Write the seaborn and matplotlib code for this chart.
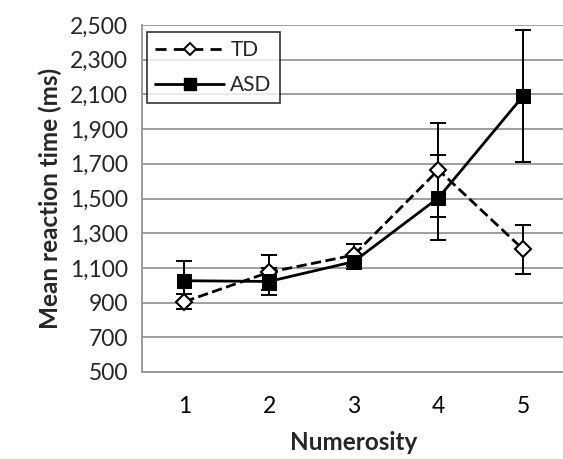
import matplotlib
matplotlib.use("Agg")
import matplotlib.pyplot as plt
import seaborn as sns
import pandas as pd
import numpy as np
from matplotlib.ticker import FuncFormatter, FixedLocator
from matplotlib.lines import Line2D

numerosity = [1, 2, 3, 4, 5]
td_mean = [905, 1075, 1174, 1665, 1207]
td_err = [43, 100, 63, 270, 141]
asd_mean = [1026, 1022, 1136, 1504, 2091]
asd_err = [115, 80, 40, 245, 381]
groups = ["TD", "ASD"]

sns.set_style("white")
plt.rcParams['font.family'] = ['Lato', 'DejaVu Sans']

df = pd.DataFrame({
    "Numerosity": numerosity * 2,
    "RT": td_mean + asd_mean,
    "err": td_err + asd_err,
    "Group": ["TD"] * 5 + ["ASD"] * 5,
})

fig = plt.figure(figsize=(5.63, 4.59), dpi=100)
ax = fig.add_axes([142 / 563, 1 - 372 / 459, 423.5 / 563, 347 / 459])

grid_c = "#969696"
for y in range(500, 2501, 200):
    ax.axhline(y, color=grid_c, lw=1.3, zorder=0)

# error bars
for g in groups:
    sub = df[df.Group == g]
    ax.errorbar(sub.Numerosity, sub.RT, yerr=sub.err, fmt="none", ecolor="black",
                elinewidth=1.4, capsize=5.5, capthick=1.4, zorder=2)

sns.lineplot(data=df[df.Group == "TD"], x="Numerosity", y="RT", ax=ax, color="black",
             lw=2.0, marker="D", markersize=8.5, markerfacecolor="white",
             markeredgecolor="black", markeredgewidth=1.5, dashes=(4, 2.6),
             linestyle="--", legend=False, zorder=3, errorbar=None)
sns.lineplot(data=df[df.Group == "ASD"], x="Numerosity", y="RT", ax=ax, color="black",
             lw=2.0, marker="s", markersize=9.5, markerfacecolor="black",
             markeredgecolor="black", legend=False, zorder=4, errorbar=None)

ax.set_xlim(0.5, 5.5)
ax.set_ylim(500, 2500)
ax.set_xticks(numerosity)
ax.set_xticklabels([str(n) for n in numerosity])
ax.xaxis.set_minor_locator(FixedLocator(np.arange(0.5, 5.6, 1.0)))
ax.tick_params(axis="x", which="major", length=0, pad=17, labelsize=16.5, colors="black")
ax.tick_params(axis="x", which="minor", length=6, width=1.3, color=grid_c, direction="out")
ax.set_yticks(range(500, 2501, 200))
ax.yaxis.set_major_formatter(FuncFormatter(lambda v, p: f"{int(v):,}"))
ax.tick_params(axis="y", length=6, width=1.3, color=grid_c, direction="out", labelsize=16.5, pad=4)

for s in ["top", "right"]:
    ax.spines[s].set_visible(False)
for s in ["left", "bottom"]:
    ax.spines[s].set_color(grid_c)
    ax.spines[s].set_linewidth(1.3)

ax.set_xlabel("Numerosity", fontsize=17.5, fontweight="bold", labelpad=10)
ax.set_ylabel("Mean reaction time (ms)", fontsize=17.5, fontweight="bold", labelpad=6)

handles = [
    Line2D([], [], color="black", lw=2.0, ls=(0, (4, 2.6)), marker="D", markersize=6,
           markerfacecolor="white", markeredgewidth=1.4),
    Line2D([], [], color="black", lw=2.0, marker="s", markersize=8),
]
leg = ax.legend(handles, groups, loc="upper left", bbox_to_anchor=(0.012, 0.98),
                borderaxespad=0, fontsize=15, handlelength=3.3, frameon=True, fancybox=False,
                edgecolor="black", borderpad=0.4, labelspacing=0.7, handletextpad=0.3)
leg.get_frame().set_linewidth(1.2)

fig.savefig("out.png", dpi=100)
